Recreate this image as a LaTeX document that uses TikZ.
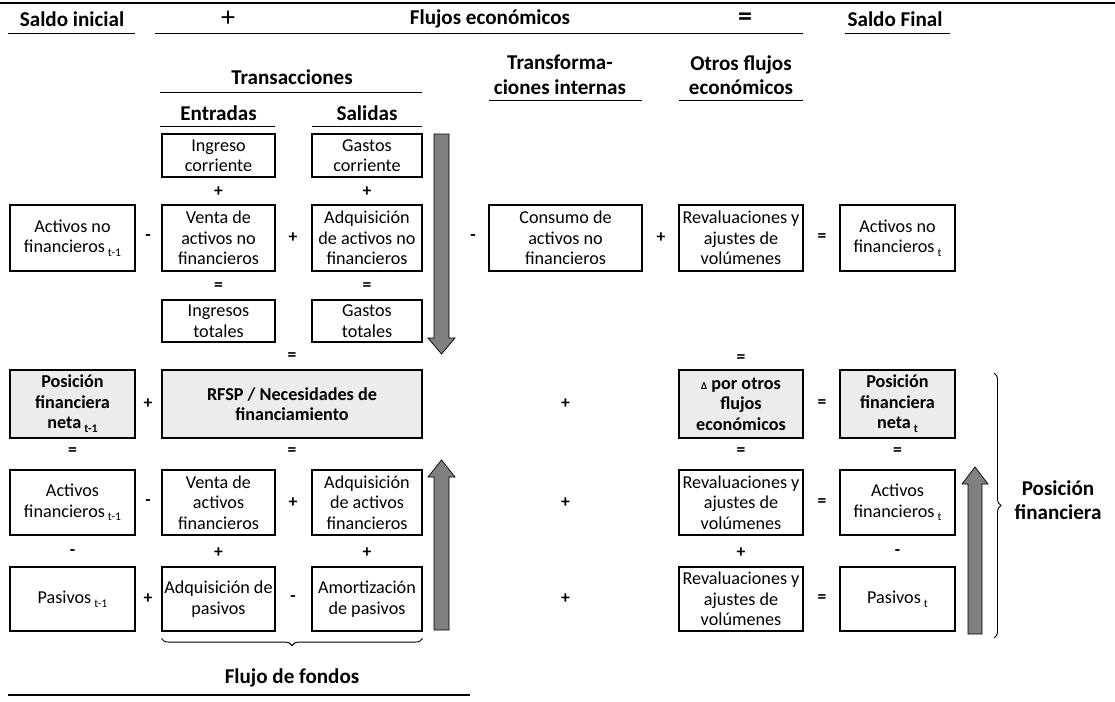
\documentclass[tikz,border=0pt]{standalone}
\usepackage{fontspec}
\setmainfont{Carlito}
\usetikzlibrary{decorations.pathreplacing}
\newcommand{\tsub}[1]{\,\raisebox{-0.45ex}{\fontsize{10}{10}\selectfont #1}}

\begin{document}
\begin{tikzpicture}[x=0.03cm,y=-0.03cm,
    caja/.style={draw,line width=0.9pt,align=center,inner sep=1pt,font=\fontsize{15.5}{17.5}\selectfont},
    sombra/.style={caja,fill=gray!15,font=\fontsize{15.5}{17.5}\selectfont\bfseries},
    titulo/.style={font=\fontsize{18}{21}\selectfont\bfseries,align=center},
    op/.style={font=\fontsize{15}{15}\selectfont\bfseries},
    colA/.style={minimum width=3.75cm},
    colB/.style={minimum width=3.39cm},
    colC/.style={minimum width=3.3cm},
    colR/.style={minimum width=7.8cm},
    colT/.style={minimum width=4.59cm},
    colD/.style={minimum width=3.72cm},
    colE/.style={minimum width=3.45cm},
    f1/.style={minimum height=1.29cm},
    f2/.style={minimum height=1.98cm},
    f3/.style={minimum height=1.26cm},
    f4/.style={minimum height=2.04cm},
    f5/.style={minimum height=1.95cm},
    f6/.style={minimum height=1.92cm},
    flecha/.style={draw=black,line width=0.6pt,fill=black!50}]
  \useasboundingbox (0,0) rectangle (1115,702);

  % encabezados
  \draw[line width=1.3pt] (0,3) -- (1115,3);
  \node[titulo] (hsi) at (72,19) {Saldo inicial};
  \node[font=\fontsize{24}{24}\selectfont] (hmas) at (228,19) {+};
  \node[titulo] (hfe) at (490,19) {Flujos económicos};
  \node[font=\fontsize{24}{24}\selectfont\bfseries] (higual) at (745,19) {=};
  \node[titulo] (hsf) at (895,19) {Saldo Final};
  \draw[thick] (8,33) -- (135,33);
  \draw[thick] (155,33) -- (803,33);
  \draw[thick] (845,33) -- (950,33);

  \node[titulo] (htr) at (292,77) {Transacciones};
  \draw[thick] (160,92) -- (422,92);
  \node[titulo] (hti) at (560,75) {Transforma-\\ciones internas};
  \draw[thick] (489,100) -- (642,100);
  \node[titulo] (hof) at (741,75) {Otros flujos\\económicos};
  \draw[thick] (679,100) -- (803,100);
  \node[titulo] (hen) at (218.5,113) {Entradas};
  \draw[thick] (160,126) -- (275,126);
  \node[titulo] (hsa) at (367,113) {Salidas};
  \draw[thick] (312,126) -- (422,126);

  % transacciones
  \node[caja,colB,f1] (en_ic) at (218.5,155.5) {Ingreso\\corriente};
  \node[caja,colC,f1] (sa_gc) at (367,155.5) {Gastos\\corriente};
  \node[op] (o1) at (218.5,192) {+};
  \node[op] (o2) at (367,192) {+};

  \node[caja,colA,f2] (ai_anf) at (72.5,238) {Activos no\\financieros\tsub{t-1}};
  \node[op] (o3) at (148,238) {-};
  \node[caja,colB,f2] (en_van) at (218.5,238) {Venta de\\activos no\\financieros};
  \node[op] (o4) at (293,238) {+};
  \node[caja,colC,f2] (sa_aan) at (367,238) {Adquisición\\de activos no\\financieros};
  \node[op] (o5) at (473,238) {-};
  \node[caja,colT,f2] (ti_can) at (565.5,238) {Consumo de\\activos no\\financieros};
  \node[op] (o6) at (661,238) {+};
  \node[caja,colD,f2] (of_r1) at (741,238) {Revaluaciones y\\ajustes de\\volúmenes};
  \node[op] (o7) at (822,238) {=};
  \node[caja,colE,f2] (sf_anf) at (897.5,238) {Activos no\\financieros\tsub{t}};

  \node[op] (o8) at (218.5,287) {=};
  \node[op] (o9) at (367,287) {=};
  \node[caja,colB,f3] (en_it) at (218.5,321) {Ingresos\\totales};
  \node[caja,colC,f3] (sa_gt) at (367,321) {Gastos\\totales};
  \node[op] (o10) at (292,357) {=};
  \node[op] (o11) at (741,359) {=};

  % posicion financiera neta
  \node[sombra,colA,f4] (ai_pfn) at (72.5,404) {Posición\\financiera\\neta\tsub{t-1}};
  \node[op] (o12) at (148,404) {+};
  \node[sombra,colR,f4] (rfsp) at (292,404) {RFSP / Necesidades de\\financiamiento};
  \node[op] (o13) at (565.5,404) {+};
  \node[sombra,colD,f4] (of_delta) at (741,404) {{\small Δ} por otros\\flujos\\económicos};
  \node[op] (o14) at (822,404) {=};
  \node[sombra,colE,f4] (sf_pfn) at (897.5,404) {Posición\\financiera\\neta\tsub{t}};

  \node[op] (o15) at (72.5,452) {=};
  \node[op] (o16) at (292,452) {=};
  \node[op] (o17) at (741,452) {=};
  \node[op] (o18) at (897.5,452) {=};

  % activos financieros
  \node[caja,colA,f5] (ai_af) at (72.5,502.5) {Activos\\financieros\tsub{t-1}};
  \node[op] (o19) at (148,502.5) {-};
  \node[caja,colB,f5] (en_vaf) at (218.5,502.5) {Venta de\\activos\\financieros};
  \node[op] (o20) at (293,502.5) {+};
  \node[caja,colC,f5] (sa_aaf) at (367,502.5) {Adquisición\\de activos\\financieros};
  \node[op] (o21) at (565.5,502.5) {+};
  \node[caja,colD,f5] (of_r2) at (741,502.5) {Revaluaciones y\\ajustes de\\volúmenes};
  \node[op] (o22) at (822,502.5) {=};
  \node[caja,colE,f5] (sf_af) at (897.5,502.5) {Activos\\financieros\tsub{t}};

  \node[op] (o23) at (72.5,553) {-};
  \node[op] (o24) at (218.5,553) {+};
  \node[op] (o25) at (367,553) {+};
  \node[op] (o26) at (741,553) {+};
  \node[op] (o27) at (897.5,553) {-};

  % pasivos
  \node[caja,colA,f6] (ai_pas) at (72.5,599) {Pasivos\tsub{t-1}};
  \node[op] (o28) at (148,599) {+};
  \node[caja,colB,f6] (en_ap) at (218.5,599) {Adquisición de\\pasivos};
  \node[op] (o29) at (293,599) {-};
  \node[caja,colC,f6] (sa_amp) at (367,599) {Amortización\\de pasivos};
  \node[op] (o30) at (565.5,599) {+};
  \node[caja,colD,f6] (of_r3) at (741,599) {Revaluaciones y\\ajustes de\\volúmenes};
  \node[op] (o31) at (822,599) {=};
  \node[caja,colE,f6] (sf_pas) at (897.5,599) {Pasivos\tsub{t}};

  % flechas
  \filldraw[flecha] (434,134) -- (449,134) -- (449,338) -- (455,338) -- (441.5,354)
    -- (428,338) -- (434,338) -- cycle;
  \filldraw[flecha] (434,630) -- (449,630) -- (449,477) -- (455,477) -- (441.5,460)
    -- (428,477) -- (434,477) -- cycle;
  \filldraw[flecha] (968,634) -- (982,634) -- (982,484) -- (988,484) -- (975,467)
    -- (962,484) -- (968,484) -- cycle;

  % llaves
  \draw[thick,decorate,decoration={brace,amplitude=6pt}]
    ([yshift=-6pt]sa_amp.south east) -- ([yshift=-6pt]en_ap.south west);
  \node[titulo] (hff) at (292,678) {Flujo de fondos};
  \draw[line width=1.3pt] (8,695) -- (470,695);
  \draw[thick,decorate,decoration={brace,amplitude=6pt}] (994,373) -- (994,638);
  \node[titulo] (hpf) at (1058,500) {Posición\\financiera};
\end{tikzpicture}
\end{document}
